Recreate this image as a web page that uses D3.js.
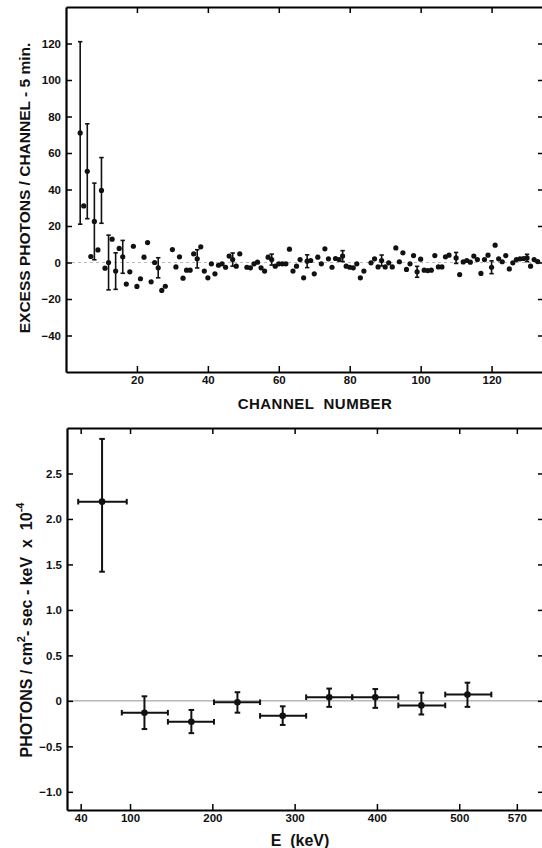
<!DOCTYPE html>
<html>
<head>
<meta charset="utf-8">
<script src="https://cdn.jsdelivr.net/npm/d3@7"></script>
<style>
  html, body { margin: 0; padding: 0; background: #fff; }
  svg { display: block; }
  text { font-family: "Liberation Sans", Arial, sans-serif; font-weight: bold; fill: #111; }
</style>
</head>
<body>
<script>
// ---------- Top panel data: excess photons per channel ----------
const channels = [4,5,6,7,8,9,10,11,12,13,14,15,16,17,18,19,20,21,22,23,24,25,26,27,28,30,31,32,33,34,35,36,37,38,39,40,41,42,43,44,45,46,47,48,49,51,52,53,54,55,56,57,58,59,60,61,62,63,64,65,66,67,68,69,70,71,72,73,74,75,76,77,78,79,80,81,82,83,84,86,87,88,89,90,91,92,93,94,95,96,97,98,99,100,101,102,103,104,105,106,107,108,110,111,112,113,114,115,116,117,118,119,120,121,122,123,124,125,126,127,128,129,130,131,132,133];
const excess   = [71,31,50,3.3,22.5,6.9,39.5,-3.1,0,12.8,-4.7,7.7,3.1,-11.8,-5.1,8.9,-13.1,-8.9,2.9,10.9,-10.6,0,-2.9,-15.3,-13,7.1,-2.4,3.1,-8.6,-4.2,-4.2,4.7,2,8.6,-4.7,-8.4,-0.7,-6.2,-1.5,-0.7,-2.6,3.5,1.6,-2,4.7,-2.6,-2.9,-0.7,0.2,-2.9,-4.7,2.9,1.6,-2,-0.7,-0.7,-0.7,7.3,-4.7,-2,1.6,-8.4,0.7,1.1,-6.2,2.9,-0.7,7.5,2,-2.6,2.2,1.6,3.5,-2,-2.6,-2.9,-0.7,-8.4,-4.7,-0.2,2,-2.4,1.1,-2.4,-0.2,-2.4,8,0.4,5.3,-3.8,-0.7,3.8,-5.1,1.8,-4.2,-4.4,-4.2,3.8,-2.4,-2.4,3.1,4,2.5,-6.6,0.3,1.1,0.2,3.5,1.6,-6,1.6,4,-2.6,9.5,2,0.4,3.8,-3.5,-0.2,1.6,2,2.2,2.5,-2,1.6,0.5];
// error bars (channel -> +/- error)
const errChannels = [4,6,8,10,12,14,16,26,37,47,58,68,78,89,99,110,120,130];
const errSizes    = [50,26,21,18,15,10,9,5.5,5,3.6,3,3.5,3,3,3,3,3.5,2];
const chTicks = [20,40,60,80,100,120];
const countTicks = [-40,-20,0,20,40,60,80,100,120];

// ---------- Bottom panel data: spectrum ----------
const energy    = [66,117.5,174.5,230.5,285.5,342,398,454,510];
const energyLow = [37,90,146,202,258,314,370,426,483];
const energyHigh= [96,146,202,258,314,370,426,483,539];
const flux      = [2.19,-0.13,-0.23,-0.015,-0.165,0.04,0.04,-0.05,0.07];
const fluxHigh  = [2.88,0.05,-0.10,0.095,-0.06,0.135,0.13,0.09,0.20];
const fluxLow   = [1.42,-0.31,-0.355,-0.13,-0.265,-0.066,-0.077,-0.15,-0.066];
const eTicks = [40,100,200,300,400,500,570];
const fluxTicks = [-1.0,-0.5,0,0.5,1.0,1.5,2.0,2.5];

const W = 542, H = 848;
const svg = d3.select("body").append("svg").attr("width", W).attr("height", H);

// ================= TOP PANEL =================
const t = {left: 66, right: 543, top: 7, bottom: 372, rightAxis: 545};
const xT = d3.scaleLinear().domain([0, 134.5]).range([t.left, t.right]);
const yT = d3.scaleLinear().domain([-60, 140]).range([t.bottom, t.top]);
const gT = svg.append("g");

// zero line
gT.append("line")
  .attr("x1", xT(0)).attr("x2", xT(134.5)).attr("y1", yT(0)).attr("y2", yT(0))
  .attr("stroke", "#aaa").attr("stroke-width", 0.8).attr("stroke-dasharray", "3,3");

// axes (inward ticks)
gT.append("g").attr("transform", `translate(0,${t.bottom})`)
  .call(d3.axisBottom(xT).tickValues(chTicks).tickSizeInner(-6).tickSizeOuter(0).tickPadding(4))
  .call(g => g.select(".domain").attr("stroke-width", 2.2));
gT.append("g").attr("transform", `translate(0,${t.top})`)
  .call(d3.axisTop(xT).tickValues(chTicks).tickSizeInner(-6).tickSizeOuter(0).tickFormat(""))
  .call(g => g.select(".domain").attr("stroke-width", 2.2));
gT.append("g").attr("transform", `translate(${t.left},0)`)
  .call(d3.axisLeft(yT).tickValues(countTicks).tickSizeInner(-6).tickSizeOuter(0).tickPadding(5))
  .call(g => g.select(".domain").attr("stroke-width", 2.2));
gT.append("g").attr("transform", `translate(${t.rightAxis},0)`)
  .call(d3.axisRight(yT).tickValues(countTicks).tickSizeInner(-7).tickSizeOuter(0).tickFormat(""))
  .call(g => g.select(".domain").attr("stroke-width", 2.2));

// error bars
const errData = errChannels.map((c, i) => ({c, v: excess[channels.indexOf(c)], e: errSizes[i]}));
const eb = gT.append("g").attr("stroke", "#111").attr("stroke-width", 1.6);
errData.forEach(d => {
  eb.append("line").attr("x1", xT(d.c)).attr("x2", xT(d.c)).attr("y1", yT(d.v + d.e)).attr("y2", yT(d.v - d.e));
  [d.v + d.e, d.v - d.e].forEach(val =>
    eb.append("line").attr("x1", xT(d.c) - 2.2).attr("x2", xT(d.c) + 2.2).attr("y1", yT(val)).attr("y2", yT(val)));
});
// points
gT.append("g").selectAll("circle").data(channels).join("circle")
  .attr("cx", d => xT(d)).attr("cy", (d, i) => yT(excess[i])).attr("r", 2.6).attr("fill", "#111");

// titles
svg.append("text").attr("x", 315).attr("y", 409).attr("text-anchor", "middle")
  .style("font-size", "15px").style("white-space", "pre").style("letter-spacing", "0.5px")
  .text("CHANNEL  NUMBER");
svg.append("text").attr("transform", "translate(30,188) rotate(-90)").attr("text-anchor", "middle")
  .style("font-size", "15.5px").text("EXCESS PHOTONS / CHANNEL - 5 min.");

// ================= BOTTOM PANEL =================
const b = {left: 67, right: 543, top: 428, bottom: 810, rightAxis: 545};
const xB = d3.scaleLinear().domain([23.4, 601.8]).range([b.left, b.right]);
const yB = d3.scaleLinear().domain([-1.2, 3.0]).range([b.bottom, b.top]);
const gB = svg.append("g");

gB.append("line")
  .attr("x1", xB(23.4)).attr("x2", xB(601.8)).attr("y1", yB(0)).attr("y2", yB(0))
  .attr("stroke", "#888").attr("stroke-width", 0.9);

const fmt = d => d === 0 ? "0" : d3.format(".1f")(d);
gB.append("g").attr("transform", `translate(0,${b.bottom})`)
  .call(d3.axisBottom(xB).tickValues(eTicks).tickSizeInner(-6).tickSizeOuter(0).tickPadding(4))
  .call(g => g.select(".domain").attr("stroke-width", 2.2));
gB.append("g").attr("transform", `translate(0,${b.top})`)
  .call(d3.axisTop(xB).tickValues(eTicks).tickSizeInner(-6).tickSizeOuter(0).tickFormat(""))
  .call(g => g.select(".domain").attr("stroke-width", 2.2));
gB.append("g").attr("transform", `translate(${b.left},0)`)
  .call(d3.axisLeft(yB).tickValues(fluxTicks).tickFormat(fmt).tickSizeInner(-6).tickSizeOuter(0).tickPadding(5))
  .call(g => g.select(".domain").attr("stroke-width", 2.2));
gB.append("g").attr("transform", `translate(${b.rightAxis},0)`)
  .call(d3.axisRight(yB).tickValues(fluxTicks).tickSizeInner(-7).tickSizeOuter(0).tickFormat(""))
  .call(g => g.select(".domain").attr("stroke-width", 2.2));

const eb2 = gB.append("g").attr("stroke", "#111").attr("stroke-width", 2);
energy.forEach((e, i) => {
  const cx = xB(e), cy = yB(flux[i]);
  eb2.append("line").attr("x1", cx).attr("x2", cx).attr("y1", yB(fluxHigh[i])).attr("y2", yB(fluxLow[i]));
  [fluxHigh[i], fluxLow[i]].forEach(v =>
    eb2.append("line").attr("x1", cx - 2.8).attr("x2", cx + 2.8).attr("y1", yB(v)).attr("y2", yB(v)));
  eb2.append("line").attr("x1", xB(energyLow[i])).attr("x2", xB(energyHigh[i])).attr("y1", cy).attr("y2", cy);
  [energyLow[i], energyHigh[i]].forEach(v =>
    eb2.append("line").attr("x1", xB(v)).attr("x2", xB(v)).attr("y1", cy - 2.8).attr("y2", cy + 2.8));
});
gB.append("g").selectAll("circle").data(energy).join("circle")
  .attr("cx", d => xB(d)).attr("cy", (d, i) => yB(flux[i])).attr("r", 3.3).attr("fill", "#111");

svg.append("text").attr("x", 300).attr("y", 846).attr("text-anchor", "middle")
  .style("font-size", "16px").style("white-space", "pre").text("E  (keV)");

const yt = svg.append("text").attr("transform", "translate(32,630) rotate(-90)").attr("text-anchor", "middle")
  .style("font-size", "16px").style("white-space", "pre");
yt.append("tspan").text("PHOTONS / cm");
yt.append("tspan").attr("dy", -7).style("font-size", "11px").text("2");
yt.append("tspan").attr("dy", 7).text("- sec - keV  x  10");
yt.append("tspan").attr("dy", -8).style("font-size", "11px").text("-4");

svg.selectAll(".tick text").style("font-size", "11.5px").style("font-weight", "bold")
  .style("font-family", "'Liberation Sans', Arial, sans-serif").attr("fill", "#111");
svg.selectAll(".tick line").attr("stroke-width", 1.5);
</script>
</body>
</html>
